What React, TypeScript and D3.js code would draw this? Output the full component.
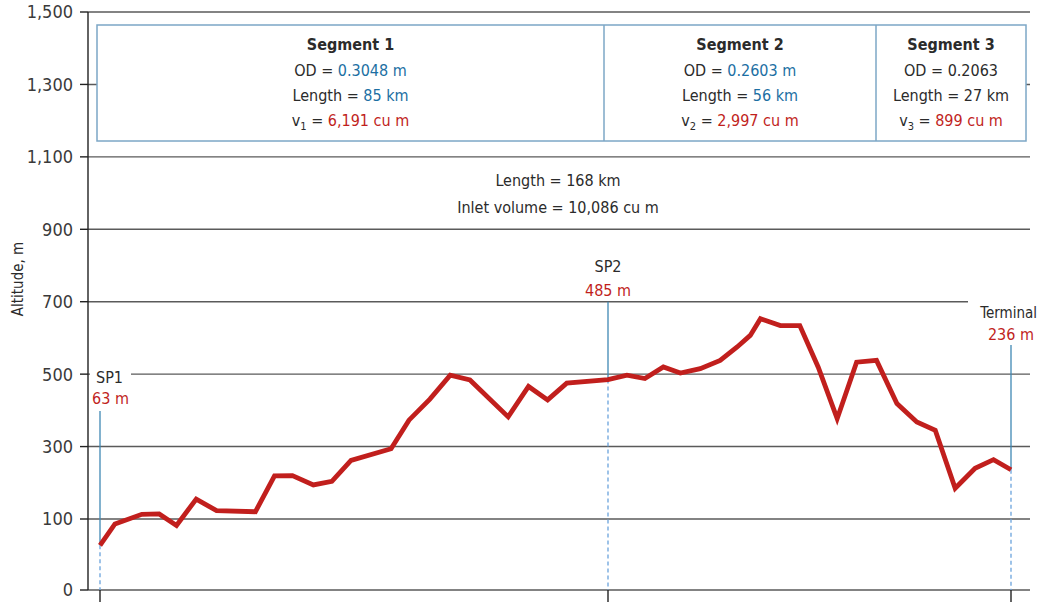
import React from 'react';
import * as d3 from 'd3';

// profile distance (km) and altitude (m)
const distanceKm = [
  0, 2.5, 7.0, 9.9, 12.8, 16.1, 19.5, 26.0, 29.2, 32.2, 35.7, 38.8, 42.0, 48.7,
  51.7, 55.2, 58.6, 61.9, 68.3, 71.7, 74.9, 78.1, 85.0, 88.9, 92.6, 96.4, 99.9,
  104.0, 108.1, 111.6, 114.3, 116.4, 120.5, 124.5, 128.3, 132.2, 136.2, 140.3,
  144.5, 148.6, 152.4, 156.5, 160.6, 164.4, 168.0,
];
const altitudeM = [
  63, 93, 113, 114, 91, 155, 123, 120, 219, 220, 194, 204, 262, 294,
  373, 431, 497, 484, 382, 466, 429, 475, 485, 497, 488, 520, 503,
  515, 538, 575, 607, 653, 634, 634, 519, 377, 533, 538,
  419, 368, 345, 185, 240, 264, 236,
];

const yTicks = [0, 100, 300, 500, 700, 900, 1100, 1300, 1500];

// stations along the line
const stations = [
  { name: 'SP1', km: 0, alt: 63, label: '63 m' },
  { name: 'SP2', km: 85, alt: 485, label: '485 m' },
  { name: 'Terminal', km: 168, alt: 236, label: '236 m' },
];

const segments = [
  { title: 'Segment 1', od: '0.3048 m', length: '85 km', sub: '1', vol: '6,191 cu m', odBlue: true, lenBlue: true },
  { title: 'Segment 2', od: '0.2603 m', length: '56 km', sub: '2', vol: '2,997 cu m', odBlue: true, lenBlue: true },
  { title: 'Segment 3', od: '0.2063', length: '27 km', sub: '3', vol: '899 cu m', odBlue: false, lenBlue: false },
];
const totalLength = 'Length = 168 km';
const inletVolume = 'Inlet volume = 10,086 cu m';

const RED = '#c11f1d';
const BLUE_TXT = '#1c6fa3';
const BLUE_LINE = '#3f88b4';
const BLUE_DASH = '#6aa3dc';
const GRID = '#5a5a5a';
const TXT = '#2b2b2b';
const NARROW = '"DejaVu Sans Condensed", "Liberation Sans Narrow", sans-serif';
const TICKFONT = '"DejaVu Sans Condensed", "Liberation Sans", sans-serif';

export default function App() {
  const width = 1042;
  const height = 602;
  const axisX = 88;
  const gridRight = 1030;

  // the axis is broken between 0 and 100
  const y = d3.scaleLinear().domain([0, 100, 1500]).range([590, 519, 12]);
  // stations are drawn schematically: segment 1 is stretched
  const x = d3.scaleLinear().domain([0, 85, 168]).range([100, 608, 1011]);

  const pts = distanceKm.map((d, i) => [d, altitudeM[i]] as [number, number]);
  const line = d3.line<[number, number]>()
    .x(d => x(d[0]))
    .y(d => y(d[1]));

  const table = { x0: 97, x1: 1026, y0: 25, y1: 141, cols: [97, 604, 876, 1026] };

  return (
    <svg width={width} height={height} style={{ position: 'absolute', left: 0, top: 0, background: '#fff' }}>
      {/* gridlines */}
      {yTicks.map(t => (
        <line key={t} x1={axisX} x2={gridRight} y1={y(t)} y2={y(t)} stroke={GRID} strokeWidth={1.4} />
      ))}
      {/* gaps for labels sitting on gridlines */}
      <rect x={90} y={y(500) - 8} width={41} height={16} fill="#fff" />
      <rect x={968} y={y(700) - 8} width={70} height={16} fill="#fff" />

      {/* y axis */}
      <line x1={axisX} x2={axisX} y1={y(1500)} y2={y(0)} stroke="#222" strokeWidth={1.4} />
      {yTicks.map(t => (
        <g key={'t' + t}>
          <line x1={axisX - 8} x2={axisX} y1={y(t)} y2={y(t)} stroke="#222" strokeWidth={1.4} />
          <text x={73} y={y(t)} dy="0.36em" textAnchor="end" fontFamily={TICKFONT} fontSize={18} fill="#3a3a3a">
            {d3.format(',')(t)}
          </text>
        </g>
      ))}
      <text transform={`translate(23,279) rotate(-90)`} textAnchor="middle" fontFamily={NARROW} fontSize={15} fill={TXT}>
        Altitude, m
      </text>

      {/* x ticks at stations */}
      {stations.map(s => (
        <line key={'x' + s.name} x1={x(s.km)} x2={x(s.km)} y1={y(0)} y2={602} stroke="#222" strokeWidth={1.4} />
      ))}

      {/* station markers */}
      {stations.map((s, i) => {
        const top = i === 0 ? 411 : i === 1 ? y(700) : 345;
        return (
          <g key={'s' + s.name}>
            <line x1={x(s.km)} x2={x(s.km)} y1={top} y2={y(s.alt)} stroke={BLUE_LINE} strokeWidth={1.3} />
            <line x1={x(s.km)} x2={x(s.km)} y1={y(s.alt)} y2={y(0)} stroke={BLUE_DASH} strokeWidth={1.3} strokeDasharray="4,3" />
          </g>
        );
      })}

      {/* station labels */}
      <text x={96} y={383} fontFamily={NARROW} fontSize={16} fill={TXT}>{stations[0].name}</text>
      <text x={92} y={404} fontFamily={NARROW} fontSize={16} fill={RED}>{stations[0].label}</text>
      <text x={x(85)} y={272} textAnchor="middle" fontFamily={NARROW} fontSize={16} fill={TXT}>{stations[1].name}</text>
      <text x={x(85)} y={296} textAnchor="middle" fontFamily={NARROW} fontSize={16} fill={RED}>{stations[1].label}</text>
      <text x={1037} y={318} textAnchor="end" fontFamily={NARROW} fontSize={15} fill={TXT}>{stations[2].name}</text>
      <text x={1034} y={340} textAnchor="end" fontFamily={NARROW} fontSize={16} fill={RED}>{stations[2].label}</text>

      {/* totals */}
      <text x={558} y={186} textAnchor="middle" fontFamily={NARROW} fontSize={16} fill={TXT}>{totalLength}</text>
      <text x={558} y={213} textAnchor="middle" fontFamily={NARROW} fontSize={16} fill={TXT}>{inletVolume}</text>

      {/* profile */}
      <path d={line(pts) ?? ''} fill="none" stroke={RED} strokeWidth={4.8} strokeLinejoin="miter" />

      {/* segment table */}
      <rect x={table.x0} y={table.y0} width={table.x1 - table.x0} height={table.y1 - table.y0}
        fill="#fff" stroke="#7ca7c6" strokeWidth={1.5} />
      {table.cols.slice(1, -1).map(cx => (
        <line key={cx} x1={cx} x2={cx} y1={table.y0} y2={table.y1} stroke="#7ca7c6" strokeWidth={1.5} />
      ))}
      {segments.map((s, i) => {
        const cx = (table.cols[i] + table.cols[i + 1]) / 2;
        const common = { x: cx, textAnchor: 'middle' as const, fontFamily: NARROW, fontSize: 16, fill: TXT };
        return (
          <g key={s.title}>
            <text {...common} y={50} fontWeight="bold">{s.title}</text>
            <text {...common} y={76}>OD = <tspan fill={s.odBlue ? BLUE_TXT : TXT}>{s.od}</tspan></text>
            <text {...common} y={101}>Length = <tspan fill={s.lenBlue ? BLUE_TXT : TXT}>{s.length}</tspan></text>
            <text {...common} y={126}>
              v<tspan fontSize={11} dy={4}>{s.sub}</tspan><tspan dy={-4}> = </tspan><tspan fill={RED}>{s.vol}</tspan>
            </text>
          </g>
        );
      })}
    </svg>
  );
}
